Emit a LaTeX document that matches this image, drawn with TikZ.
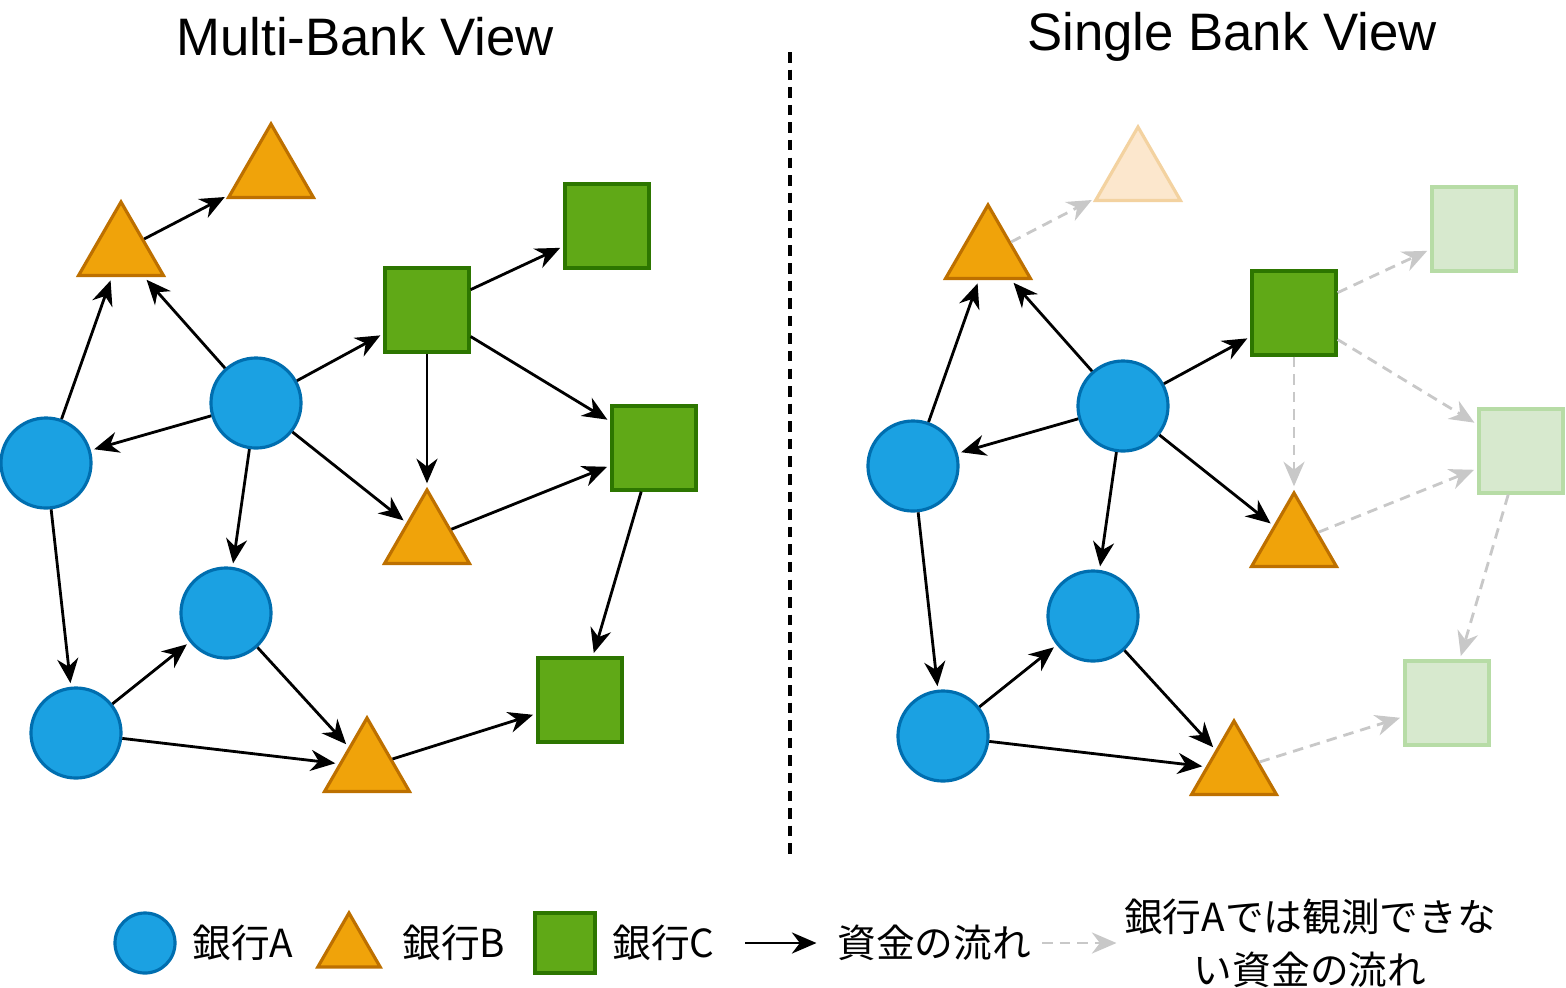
\documentclass[tikz,border=0pt]{standalone}
\usepackage{fontspec}
\setmainfont{Liberation Sans}
\newfontfamily\cjk{Noto Sans CJK JP}
\usepackage{tikz}
\usetikzlibrary{arrows.meta,shapes.geometric,positioning}
\definecolor{bankA}{HTML}{1BA1E2}\definecolor{bankAd}{HTML}{006EAF}
\definecolor{bankB}{HTML}{F0A30A}\definecolor{bankBd}{HTML}{BD7000}
\definecolor{bankC}{HTML}{60A917}\definecolor{bankCd}{HTML}{2D7600}
\definecolor{fadeB}{HTML}{FCE7CD}\definecolor{fadeBd}{HTML}{F3D2A0}
\definecolor{fadeC}{HTML}{D7E9CE}\definecolor{fadeCd}{HTML}{B7DCA6}
\definecolor{hidden}{HTML}{C8C8C8}
\tikzset{
  acct/.style={circle,fill=bankA,draw=bankAd,line width=0.9pt,minimum size=0.9cm,inner sep=0},
  tri/.style={regular polygon,regular polygon sides=3,fill=bankB,draw=bankBd,line width=0.9pt,minimum size=0.98cm,inner sep=0},
  sq/.style={rectangle,fill=bankC,draw=bankCd,line width=0.9pt,minimum size=0.84cm,inner sep=0},
  ftri/.style={tri,fill=fadeB,draw=fadeBd},
  fsq/.style={sq,fill=fadeC,draw=fadeCd},
  flow/.style={-{Stealth[length=7pt,width=6pt]},line width=0.8pt,shorten >=1pt},
  hflow/.style={flow,draw=hidden,dashed,dash pattern=on 3pt off 2pt},
  title/.style={font=\fontsize{15}{18}\selectfont},
  lbl/.style={font=\cjk\fontsize{11}{15}\selectfont,anchor=west}
}
\begin{document}
\begin{tikzpicture}[x=0.01cm,y=-0.01cm]
\useasboundingbox (0,0) rectangle (1566,987);
\node[title] at (365,37) {Multi-Bank View};
\node[title] at (1232,37) {Single Bank View};
\draw[line width=0.9pt,dashed,dash pattern=on 3pt off 2pt] (790,52) -- (790,855);

% multi-bank view
\node[acct] (c1) at (256,403) {};
\node[acct] (c2) at (46,463) {};
\node[acct] (c3) at (226,613) {};
\node[acct] (c4) at (76,733) {};
\node[tri] (t1) at (121,251) {};
\node[tri] (t2) at (271,173) {};
\node[tri] (t3) at (427,539) {};
\node[tri] (t4) at (367,767) {};
\node[sq] (s1) at (427,310) {};
\node[sq] (s2) at (607,226) {};
\node[sq] (s3) at (654,448) {};
\node[sq] (s4) at (580,700) {};
\foreach \a/\b in {c1/t1,c1/c2,c1/s1,c1/t3,c1/c3,c2/t1,c2/c4,c4/c3,c4/t4,c3/t4,
                   t1/t2,s1/s2,s1/s3,s1/t3,t3/s3,s3/s4,t4/s4}
  \draw[flow] (\a) -- (\b);

% single bank view
\node[acct] (r1) at (1123,406) {};
\node[acct] (r2) at (913,466) {};
\node[acct] (r3) at (1093,616) {};
\node[acct] (r4) at (943,736) {};
\node[tri] (u1) at (988,254) {};
\node[ftri] (u2) at (1138,176) {};
\node[tri] (u3) at (1294,542) {};
\node[tri] (u4) at (1234,770) {};
\node[sq] (v1) at (1294,313) {};
\node[fsq] (v2) at (1474,229) {};
\node[fsq] (v3) at (1521,451) {};
\node[fsq] (v4) at (1447,703) {};
\foreach \a/\b in {r1/u1,r1/r2,r1/v1,r1/u3,r1/r3,r2/u1,r2/r4,r4/r3,r4/u4,r3/u4}
  \draw[flow] (\a) -- (\b);
\foreach \a/\b in {u1/u2,v1/v2,v1/v3,v1/u3,u3/v3,v3/v4,u4/v4}
  \draw[hflow] (\a) -- (\b);

% legend
\node[acct,minimum size=0.6cm] (la) at (145,943) {};
\node[lbl] at (180,943) {銀行A};
\node[tri,minimum size=0.72cm] (lb) at (349,949) {};
\node[lbl] at (390,943) {銀行B};
\node[sq,minimum size=0.6cm] (lc) at (565,943) {};
\node[lbl] at (600,943) {銀行C};
\coordinate (f0) at (745,943); \coordinate (f1) at (820,943);
\draw[flow] (f0) -- (f1);
\node[lbl] at (825,943) {資金の流れ};
\coordinate (h0) at (1042,943); \coordinate (h1) at (1120,943);
\draw[hflow] (h0) -- (h1);
\node[font=\cjk\fontsize{11}{15}\selectfont,align=center] at (1310,943) {銀行Aでは観測できな\\い資金の流れ};
\end{tikzpicture}
\end{document}
